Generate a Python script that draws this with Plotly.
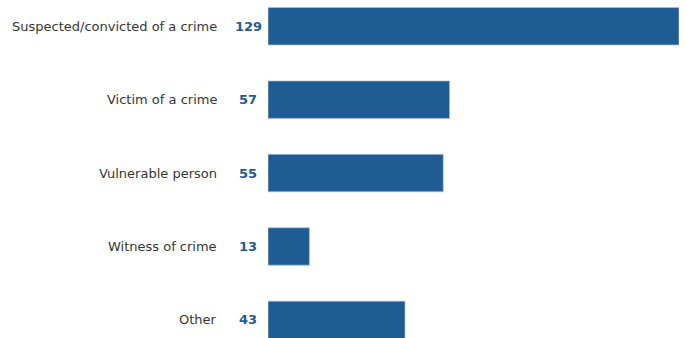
import plotly.graph_objects as go

categories = ["Suspected/convicted of a crime", "Victim of a crime", "Vulnerable person",
              "Witness of crime", "Other"]
values = [129, 57, 55, 13, 43]

bar_color = "#1f5c94"
label_color = "#363636"
value_color = "#1f5c99"

W, H = 685, 338
ml, mr = 268, 6
plot_w = W - ml - mr

fig = go.Figure(go.Bar(
    x=values, y=categories, orientation="h",
    marker=dict(color=bar_color, line=dict(color="rgba(170,195,225,0.7)", width=1)),
    width=0.51, hoverinfo="skip",
))

annotations = []
for c, v in zip(categories, values):
    annotations.append(dict(x=(248 - ml) / plot_w, xref="paper", y=c, yref="y",
                            text=f"<b>{v}</b>", showarrow=False, xanchor="center",
                            font=dict(family="DejaVu Sans", size=13, color=value_color)))
    annotations.append(dict(x=(219 - ml) / plot_w, xref="paper", y=c, yref="y",
                            text=c, showarrow=False, xanchor="right",
                            font=dict(family="DejaVu Sans", size=13, color=label_color)))

fig.update_layout(
    width=W, height=H,
    margin=dict(l=ml, r=mr, t=0, b=0),
    paper_bgcolor="white", plot_bgcolor="white",
    showlegend=False,
    xaxis=dict(range=[0, 129], visible=False, fixedrange=True),
    yaxis=dict(type="category", categoryorder="array", categoryarray=categories,
               range=[4.247, -0.358], showticklabels=False, showgrid=False,
               zeroline=False, showline=False, fixedrange=True),
    annotations=annotations,
)

fig.write_html("out.html")
